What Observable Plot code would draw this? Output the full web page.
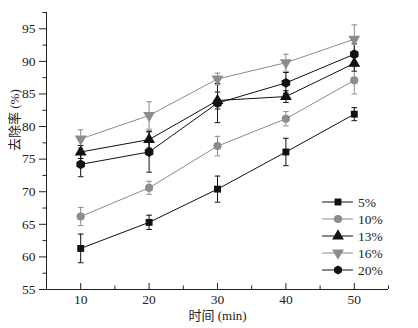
<!DOCTYPE html>
<html><head><meta charset="utf-8">
<script src="https://cdn.jsdelivr.net/npm/d3@7"></script>
<script src="https://cdn.jsdelivr.net/npm/@observablehq/plot@0.6"></script>
<style>body{margin:0;background:#fff;} #chart{position:relative;width:418px;height:328px;}
#chart svg text{font-family:"Liberation Serif","Times New Roman","Noto Sans CJK SC",serif;}</style>
</head><body><div id="chart"></div>
<script>
const times = [10, 20, 30, 40, 50];
const seriesNames = ["5%", "10%", "13%", "16%", "20%"];
const s5 = [61.3, 65.3, 70.4, 76.1, 81.9];
const e5 = [2.2, 1.1, 2.0, 2.1, 1.0];
const s10 = [66.2, 70.6, 77.0, 81.2, 87.1];
const e10 = [1.4, 1.0, 1.5, 1.1, 2.1];
const s13 = [76.1, 78.0, 84.0, 84.6, 89.7];
const e13 = [1.0, 1.3, 1.3, 0.9, 1.2];
const s16 = [78.1, 81.7, 87.3, 89.8, 93.4];
const e16 = [1.4, 2.1, 0.9, 1.3, 2.2];
const s20 = [74.2, 76.1, 83.6, 86.7, 91.1];
const e20 = [1.9, 3.1, 3.0, 1.6, 1.6];
const yTicks = [55, 60, 65, 70, 75, 80, 85, 90, 95];
const yMinor = [57.5, 62.5, 67.5, 72.5, 77.5, 82.5, 87.5, 92.5, 97.5];
const xTicks = [10, 20, 30, 40, 50];
const xMinor = [15, 25, 35, 45, 55];

const BLACK = "#111", GRAY = "#8c8c8c";
const triangleDown = {
  draw(ctx, size) {
    const s3 = Math.sqrt(3);
    const y = -Math.sqrt(size / (s3 * 3));
    ctx.moveTo(0, -y * 2); ctx.lineTo(-s3 * y, y); ctx.lineTo(s3 * y, y); ctx.closePath();
  }
};
const capSym = {
  draw(ctx, size) { const w = 2.8; ctx.moveTo(-w, 0); ctx.lineTo(w, 0); }
};
const styles = [
  {color: BLACK, symbol: "square", r: 3.9},
  {color: GRAY, symbol: "circle", r: 4.1},
  {color: BLACK, symbol: "triangle", r: 4.4},
  {color: GRAY, symbol: triangleDown, r: 4.4},
  {color: BLACK, symbol: "hexagon", r: 4.3}
];
const vals = [s5, s10, s13, s16, s20];
const errs = [e5, e10, e13, e16, e20];
const data = [];
vals.forEach((arr, i) => arr.forEach((v, j) => data.push({series: seriesNames[i], i, t: times[j], v, e: errs[i][j]})));

const W = 418, H = 328, mT = 12, mB = 39, mL = 46, mR = 30;
const frameH = H - mT - mB;

const marks = [
  Plot.ruleX([5], {stroke: "#222"}),
  Plot.ruleY([55], {stroke: "#222"}),
  Plot.axisY({ticks: yTicks, tickSize: 7, tickPadding: 4, label: null, fontSize: 13.5, color: "#222"}),
  Plot.axisY({ticks: yMinor, tickSize: 3.5, tickFormat: () => "", label: null, color: "#222"}),
  Plot.axisX({ticks: xTicks, tickSize: 0, tickPadding: 5, label: null, fontSize: 13.5, color: "#222"}),
  Plot.ruleX(xTicks, {x: d => d, insetTop: frameH - 6, stroke: "#222"}),
  Plot.ruleX(xMinor, {x: d => d, insetTop: frameH - 3.5, stroke: "#222"}),
  Plot.text(["时间 (min)"], {frameAnchor: "bottom", dy: 30, fontSize: 13, fill: "#222"}),
  Plot.text(["去除率 (%)"], {frameAnchor: "left", dx: -32, rotate: -90, fontSize: 13, fill: "#222"})
];
styles.forEach((st, i) => {
  const d = data.filter(r => r.i === i);
  marks.push(Plot.line(d, {x: "t", y: "v", stroke: st.color, strokeWidth: 1}));
});
styles.forEach((st, i) => {
  const d = data.filter(r => r.i === i);
  marks.push(Plot.ruleX(d, {x: "t", y1: r => r.v - r.e, y2: r => r.v + r.e, stroke: st.color, strokeWidth: 1}));
  marks.push(Plot.dot(d, {x: "t", y: r => r.v + r.e, symbol: capSym, r: 3, stroke: st.color, fill: "none", strokeWidth: 1}));
  marks.push(Plot.dot(d, {x: "t", y: r => r.v - r.e, symbol: capSym, r: 3, stroke: st.color, fill: "none", strokeWidth: 1}));
});
styles.forEach((st, i) => {
  const d = data.filter(r => r.i === i);
  marks.push(Plot.dot(d, {x: "t", y: "v", symbol: st.symbol, r: st.r, fill: st.color, stroke: "none"}));
});

const plot = Plot.plot({
  width: W, height: H, marginTop: mT, marginBottom: mB, marginLeft: mL, marginRight: mR,
  x: {domain: [5, 55]},
  y: {domain: [55, 97.5]},
  style: {fontFamily: "Liberation Serif, Times New Roman, serif", fontSize: "13px", background: "white", color: "#222"},
  marks
});
document.getElementById("chart").appendChild(plot);

// legend
const svg = d3.select(plot);
const lg = svg.append("g").attr("text-anchor", "start");
styles.forEach((st, i) => {
  const y = 202 + i * 17;
  const g = lg.append("g");
  g.append("line").attr("x1", 322).attr("x2", 353).attr("y1", y).attr("y2", y).attr("stroke", st.color).attr("stroke-width", 1);
  const sym = typeof st.symbol === "string"
    ? {square: d3.symbolSquare, circle: d3.symbolCircle, triangle: d3.symbolTriangle, hexagon: null}[st.symbol]
    : st.symbol;
  const area = Math.PI * st.r * st.r;
  if (st.symbol === "hexagon") {
    const rr = st.r * 1.05;
    const pts = d3.range(6).map(k => { const a = Math.PI / 3 * k; return [338 + rr * Math.sin(a), y + rr * Math.cos(a)]; });
    g.append("path").attr("d", "M" + pts.join("L") + "Z").attr("fill", st.color);
  } else {
    g.append("path").attr("d", d3.symbol(sym, area)()).attr("transform", `translate(338,${y})`).attr("fill", st.color);
  }
  g.append("text").attr("x", 358).attr("y", y).attr("dy", "0.35em").attr("text-anchor", "start").attr("font-size", 13.5).attr("fill", "#222").text(seriesNames[i]);
});
</script></body></html>
